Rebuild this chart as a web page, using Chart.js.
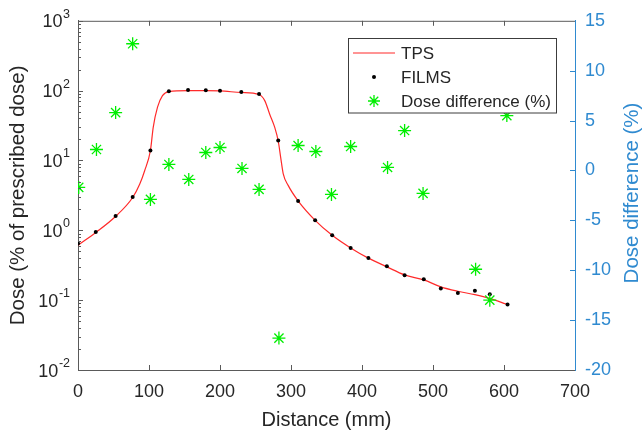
<!DOCTYPE html>
<html>
<head>
<meta charset="utf-8">
<script src="https://cdn.jsdelivr.net/npm/chart.js@4.4.1/dist/chart.umd.min.js"></script>
<style>
  html, body { margin: 0; padding: 0; background: #fff; }
</style>
</head>
<body>
<canvas id="doseProfile" width="644" height="432"></canvas>
<script>
// TPS calculated profile (solid red line)
const tpsDistance = [0, 25, 52, 77, 87, 94, 102, 106, 112, 119, 128, 155, 180, 200, 230, 255, 263, 270, 277, 282, 285.5, 289, 296, 310, 334, 358, 384, 409, 435, 460, 487, 511, 535, 559, 580, 603];
const tpsDose = [0.61, 0.93, 1.55, 2.95, 4.6, 7.2, 13.9, 30, 58, 85, 97, 100, 100, 99, 94, 88, 72, 46, 30, 19, 11, 6.5, 4.4, 2.64, 1.39, 0.85, 0.56, 0.40, 0.30, 0.23, 0.195, 0.155, 0.134, 0.12, 0.106, 0.088];

// film measurements (black dots)
const filmDistance = [0, 25, 53, 77, 102, 128, 155, 180, 200, 230, 255, 282, 310, 334, 358, 384, 409, 435, 460, 487, 511, 535, 559, 580, 605];
const filmDose = [0.645, 0.95, 1.6, 2.99, 13.9, 97.7, 102, 101, 100, 95.6, 89.8, 19.3, 2.64, 1.39, 0.85, 0.56, 0.40, 0.306, 0.228, 0.2, 0.147, 0.127, 0.136, 0.122, 0.087];

// dose difference on the right axis (green stars)
const diffDistance = [1, 26, 53, 77, 102, 128, 156, 180, 200, 231, 255, 283, 310, 335, 357, 384, 436, 460, 486, 560, 580, 604];
const diffPercent = [-1.7, 2.1, 5.8, 12.7, -2.9, 0.6, -0.9, 1.8, 2.3, 0.2, -1.9, -16.8, 2.5, 1.9, -2.4, 2.4, 0.3, 4.0, -2.3, -9.9, -13.0, 5.5];

const xTicks = [0, 100, 200, 300, 400, 500, 600, 700];
const diffTicks = [-20, -15, -10, -5, 0, 5, 10, 15];
const logExponents = [-2, -1, 0, 1, 2, 3];
const legendLabels = ["TPS", "FILMS", "Dose difference (%)"];

const axisGray = "#5a5a5a";
const textGray = "#262626";
const rightBlue = "#2f8ad0";
const fontFamily = "'Liberation Sans', Arial, sans-serif";

function toPoints(xs, ys) {
  return xs.map((x, i) => ({ x: x, y: ys[i] }));
}

function drawStar(ctx, x, y, r) {
  const d = r * Math.SQRT1_2;
  ctx.beginPath();
  ctx.moveTo(x - r, y); ctx.lineTo(x + r, y);
  ctx.moveTo(x, y - r); ctx.lineTo(x, y + r);
  ctx.moveTo(x - d, y - d); ctx.lineTo(x + d, y + d);
  ctx.moveTo(x - d, y + d); ctx.lineTo(x + d, y - d);
  ctx.stroke();
}

// inward ticks, top box edge, log labels, right title, legend
const matlabAxes = {
  id: "matlabAxes",
  afterDraw(chart) {
    const { ctx, chartArea: area, scales } = chart;
    const x = scales.x, y = scales.y, y2 = scales.y2;
    ctx.save();

    ctx.strokeStyle = axisGray;
    ctx.lineWidth = 1;
    ctx.beginPath();
    ctx.moveTo(area.left, area.top + 0.5);
    ctx.lineTo(area.right, area.top + 0.5);
    ctx.stroke();

    ctx.beginPath();
    xTicks.forEach((v) => {
      if (v === 0 || v === 700) return;
      const px = Math.round(x.getPixelForValue(v)) + 0.5;
      ctx.moveTo(px, area.bottom); ctx.lineTo(px, area.bottom - 5);
      ctx.moveTo(px, area.top); ctx.lineTo(px, area.top + 5);
    });
    logExponents.forEach((e) => {
      for (let m = 1; m <= 9; m++) {
        if (e === 3 && m > 1) break;
        const py = Math.round(y.getPixelForValue(m * Math.pow(10, e))) + 0.5;
        const len = m === 1 ? 5 : 3;
        ctx.moveTo(area.left, py); ctx.lineTo(area.left + len, py);
      }
    });
    ctx.stroke();

    ctx.strokeStyle = rightBlue;
    ctx.beginPath();
    diffTicks.forEach((v) => {
      if (v === -20 || v === 15) return;
      const py = Math.round(y2.getPixelForValue(v)) + 0.5;
      ctx.moveTo(area.right, py); ctx.lineTo(area.right - 5, py);
    });
    ctx.stroke();

    // log tick labels as 10 with a raised exponent
    ctx.fillStyle = textGray;
    ctx.textBaseline = "alphabetic";
    logExponents.forEach((e) => {
      const py = y.getPixelForValue(Math.pow(10, e));
      const exp = String(e);
      ctx.font = "12.5px " + fontFamily;
      const expW = ctx.measureText(exp).width;
      ctx.textAlign = "left";
      ctx.fillText(exp, 70 - expW, py - 3);
      ctx.font = "18px " + fontFamily;
      ctx.textAlign = "right";
      ctx.fillText("10", 70 - expW - 0.5, py + 6.5);
    });

    // right axis title, reading bottom to top
    ctx.save();
    ctx.translate(632, 193);
    ctx.rotate(-Math.PI / 2);
    ctx.font = "20.5px " + fontFamily;
    ctx.fillStyle = rightBlue;
    ctx.textAlign = "center";
    ctx.textBaseline = "middle";
    ctx.fillText("Dose difference (%)", 0, 0);
    ctx.restore();

    // legend box
    const lx = 348.5, ly = 38.5, lw = 208, lh = 74.5;
    ctx.fillStyle = "#fff";
    ctx.fillRect(lx, ly, lw, lh);
    ctx.strokeStyle = "#3c3c3c";
    ctx.strokeRect(lx, ly, lw, lh);
    const rows = [53, 77, 101];
    ctx.strokeStyle = "#ff2a2a";
    ctx.lineWidth = 1.2;
    ctx.beginPath();
    ctx.moveTo(353, rows[0]); ctx.lineTo(395, rows[0]);
    ctx.stroke();
    ctx.fillStyle = "#000";
    ctx.beginPath();
    ctx.arc(374, rows[1], 2, 0, Math.PI * 2);
    ctx.fill();
    ctx.strokeStyle = "#00ee00";
    ctx.lineWidth = 1.3;
    drawStar(ctx, 374, rows[2], 6);
    ctx.fillStyle = textGray;
    ctx.font = "17px " + fontFamily;
    ctx.textAlign = "left";
    ctx.textBaseline = "middle";
    legendLabels.forEach((t, i) => ctx.fillText(t, 401, rows[i] + 1));

    ctx.restore();
  },
};

new Chart(document.getElementById("doseProfile"), {
  type: "scatter",
  data: {
    datasets: [
      {
        label: legendLabels[0],
        data: toPoints(tpsDistance, tpsDose),
        showLine: true,
        borderColor: "#ff2a2a",
        borderWidth: 1.2,
        pointRadius: 0,
        cubicInterpolationMode: "monotone",
        yAxisID: "y",
        order: 3,
      },
      {
        label: legendLabels[1],
        data: toPoints(filmDistance, filmDose),
        pointRadius: 2,
        pointBorderWidth: 0,
        backgroundColor: "#000",
        borderColor: "#000",
        yAxisID: "y",
        order: 2,
      },
      {
        label: legendLabels[2],
        data: toPoints(diffDistance, diffPercent),
        pointStyle: "star",
        pointRadius: 6.5,
        pointBorderWidth: 1.3,
        borderColor: "#00ee00",
        backgroundColor: "#00ee00",
        yAxisID: "y2",
        order: 1,
      },
    ],
  },
  options: {
    responsive: false,
    animation: false,
    layout: { padding: { top: 20, left: 0, right: 0, bottom: 0 } },
    plugins: {
      legend: { display: false },
      tooltip: { enabled: false },
    },
    scales: {
      x: {
        type: "linear",
        min: 0,
        max: 700,
        afterFit: (s) => { s.height = 62; },
        afterBuildTicks: (s) => { s.ticks = xTicks.map((v) => ({ value: v })); },
        ticks: {
          color: textGray,
          font: { family: fontFamily, size: 18 },
          padding: 11,
          maxRotation: 0,
        },
        grid: { display: false, drawTicks: false },
        border: { color: axisGray, width: 1 },
        title: {
          display: true,
          text: "Distance (mm)",
          color: textGray,
          font: { family: fontFamily, size: 20 },
          padding: { top: 0, bottom: 0 },
        },
      },
      y: {
        type: "logarithmic",
        position: "left",
        min: 0.01,
        max: 1000,
        afterFit: (s) => { s.width = 78; },
        ticks: { display: false },
        grid: { display: false, drawTicks: false },
        border: { color: axisGray, width: 1 },
        title: {
          display: true,
          text: "Dose (% of prescribed dose)",
          color: textGray,
          font: { family: fontFamily, size: 20.5 },
          padding: { top: 6, bottom: 0 },
        },
      },
      y2: {
        type: "linear",
        position: "right",
        min: -20,
        max: 15,
        afterFit: (s) => { s.width = 69; },
        afterBuildTicks: (s) => { s.ticks = diffTicks.map((v) => ({ value: v })); },
        ticks: {
          color: rightBlue,
          font: { family: fontFamily, size: 18 },
          padding: 10,
        },
        grid: { display: false, drawTicks: false },
        border: { color: rightBlue, width: 1 },
      },
    },
  },
  plugins: [matlabAxes],
});
</script>
</body>
</html>
